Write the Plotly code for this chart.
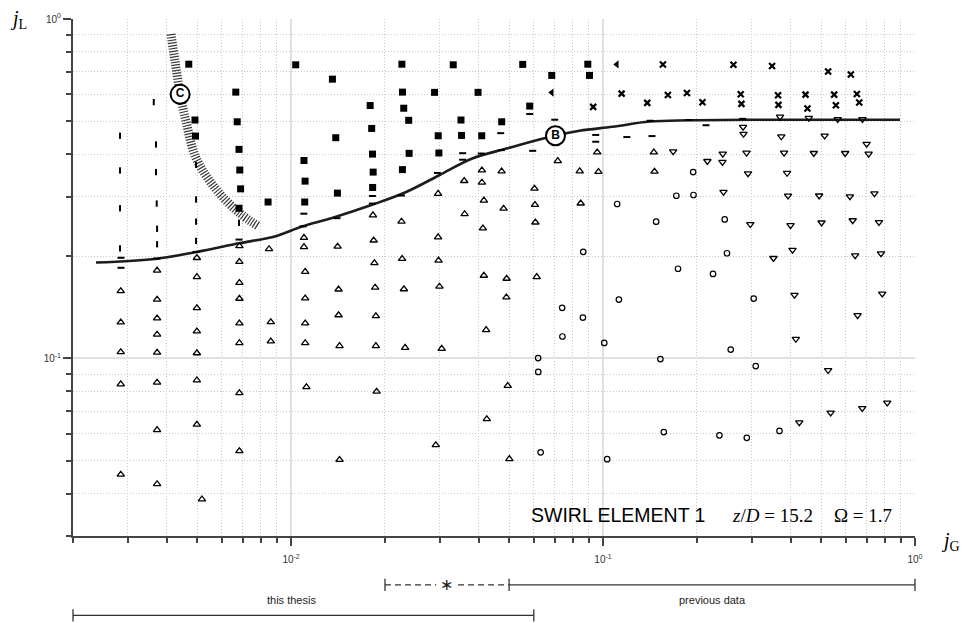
import math
import plotly.graph_objects as go

# ---- flow regime data: (jG, jL) pairs per observed pattern ----
squares = [(0.0047, 0.736), (0.01035, 0.733), (0.00665, 0.609), (0.00492, 0.504), (0.00672, 0.498),
           (0.00494, 0.452), (0.00681, 0.413), (0.00685, 0.359), (0.00689, 0.316), (0.00844, 0.289),
           (0.00681, 0.277), (0.01357, 0.665), (0.0110, 0.383), (0.01109, 0.333), (0.01106, 0.289),
           (0.01391, 0.447), (0.01408, 0.307), (0.01793, 0.556), (0.01813, 0.476), (0.01824, 0.400),
           (0.01833, 0.354), (0.01826, 0.319), (0.02266, 0.736), (0.02276, 0.609), (0.02297, 0.546),
           (0.02383, 0.503), (0.0239, 0.402), (0.02275, 0.360), (0.02884, 0.608), (0.02963, 0.453),
           (0.02977, 0.403), (0.0331, 0.733), (0.03505, 0.504), (0.0352, 0.454), (0.03975, 0.608),
           (0.04085, 0.453), (0.04733, 0.498), (0.05528, 0.735), (0.05821, 0.554), (0.06849, 0.682),
           (0.08937, 0.736), (0.09051, 0.682)]

left_triangles = [(0.0685, 0.607), (0.1107, 0.735)]

vertical_bars = [(0.00283, 0.453), (0.00283, 0.358), (0.00283, 0.277), (0.00283, 0.211),
                 (0.00363, 0.569), (0.00369, 0.427), (0.00369, 0.354), (0.00371, 0.286),
                 (0.00372, 0.241), (0.00372, 0.217), (0.00496, 0.372), (0.00496, 0.294),
                 (0.00496, 0.253), (0.00496, 0.222), (0.00681, 0.251)]

horizontal_bars = [(0.00285, 0.198), (0.00285, 0.185), (0.00371, 0.197), (0.00496, 0.206),
                   (0.00681, 0.224), (0.01099, 0.267), (0.01093, 0.245), (0.01404, 0.259),
                   (0.01823, 0.301), (0.01823, 0.286), (0.0226, 0.302), (0.02945, 0.352),
                   (0.03548, 0.4025), (0.03548, 0.385), (0.0407, 0.4016), (0.04698, 0.461),
                   (0.04722, 0.411), (0.05821, 0.525), (0.05951, 0.409), (0.07002, 0.505),
                   (0.09475, 0.4555), (0.09475, 0.435), (0.1192, 0.449), (0.1417, 0.5015),
                   (0.1435, 0.452), (0.1885, 0.504), (0.2138, 0.4865), (0.2804, 0.508)]

up_triangles = [(0.002845, 0.158), (0.002845, 0.1278), (0.002845, 0.1045), (0.002845, 0.084), (0.002845, 0.0455),
                (0.00372, 0.1817), (0.00372, 0.1491), (0.00372, 0.1313), (0.00372, 0.1177), (0.00372, 0.1041),
                (0.00372, 0.085), (0.00372, 0.0616), (0.00372, 0.0427),
                (0.00499, 0.1979), (0.00499, 0.1739), (0.00499, 0.1408), (0.00499, 0.1203), (0.00499, 0.1037),
                (0.00499, 0.0863), (0.00499, 0.0639), (0.00518, 0.0385),
                (0.00683, 0.2145), (0.00683, 0.1927), (0.00683, 0.1671), (0.00683, 0.1501), (0.00683, 0.127),
                (0.00683, 0.1111), (0.00683, 0.0791), (0.00683, 0.0534),
                (0.0085, 0.2102), (0.00861, 0.1281), (0.00861, 0.1124),
                (0.0110, 0.2269), (0.0110, 0.2131), (0.0111, 0.1802), (0.0111, 0.1504), (0.0111, 0.127),
                (0.0111, 0.1111), (0.0112, 0.0824),
                (0.0141, 0.2136), (0.0142, 0.1598), (0.0142, 0.1342), (0.0143, 0.1089), (0.0143, 0.0503),
                (0.0183, 0.2643), (0.0184, 0.2228), (0.0185, 0.191), (0.0186, 0.1619), (0.0187, 0.1334),
                (0.0187, 0.1089), (0.0188, 0.0799),
                (0.0226, 0.2533), (0.0227, 0.1966), (0.023, 0.1601), (0.0232, 0.1076),
                (0.0291, 0.0556), (0.0296, 0.2277), (0.0296, 0.3058), (0.0297, 0.1945), (0.0299, 0.163),
                (0.0304, 0.1069),
                (0.0359, 0.3336), (0.036, 0.2665),
                (0.0409, 0.3583), (0.0409, 0.33), (0.0415, 0.2922), (0.0412, 0.2419), (0.0415, 0.1754),
                (0.0422, 0.1214), (0.0424, 0.0663),
                (0.0473, 0.3559), (0.048, 0.2766), (0.0491, 0.1719), (0.049, 0.1514), (0.0495, 0.0831),
                (0.0501, 0.0506),
                (0.0603, 0.3167), (0.0605, 0.2836), (0.0607, 0.2517), (0.0613, 0.1739),
                (0.0716, 0.3819), (0.0842, 0.3562), (0.0848, 0.2864), (0.0958, 0.4048), (0.0967, 0.3548),
                (0.1455, 0.405), (0.1462, 0.3555)]

circles = [(0.0864, 0.2061), (0.07396, 0.141), (0.0862, 0.132), (0.0741, 0.1161), (0.06194, 0.1003),
           (0.062, 0.0913), (0.0631, 0.0529), (0.1009, 0.1111), (0.1031, 0.0505), (0.111, 0.2851),
           (0.1124, 0.1491), (0.148, 0.253), (0.1527, 0.0996), (0.1566, 0.0607), (0.1718, 0.3016),
           (0.1739, 0.1838), (0.1945, 0.354), (0.195, 0.3031), (0.2252, 0.1774), (0.2361, 0.0594),
           (0.2455, 0.2568), (0.2497, 0.2042), (0.2566, 0.1062), (0.2889, 0.0584), (0.3041, 0.1501),
           (0.3087, 0.095), (0.3678, 0.0612)]

down_triangles = [(0.3693, 0.5151), (0.4567, 0.511), (0.5653, 0.5066), (0.6785, 0.5066), (0.2811, 0.4808),
                  (0.282, 0.4585), (0.3728, 0.4506), (0.5133, 0.4531), (0.6998, 0.4285), (0.1678, 0.4071),
                  (0.242, 0.4007), (0.2884, 0.4035), (0.3805, 0.4035), (0.4738, 0.4026), (0.5972, 0.4026),
                  (0.7102, 0.4007), (0.216, 0.3814), (0.2414, 0.3789), (0.2916, 0.3507), (0.389, 0.3518),
                  (0.2433, 0.3093), (0.3919, 0.3016), (0.4929, 0.3018), (0.6185, 0.3001), (0.7413, 0.3062),
                  (0.2965, 0.2485), (0.399, 0.2467), (0.5017, 0.2513), (0.6314, 0.2552), (0.7666, 0.252),
                  (0.3518, 0.1975), (0.4049, 0.2088), (0.643, 0.2011), (0.778, 0.2038), (0.411, 0.1538),
                  (0.7852, 0.1552), (0.6546, 0.134), (0.415, 0.1141), (0.5267, 0.0923), (0.4257, 0.0648),
                  (0.5366, 0.0692), (0.6775, 0.0714), (0.8148, 0.0741)]

crosses = [(0.1556, 0.7349), (0.2618, 0.7334), (0.3482, 0.7271), (0.5267, 0.700), (0.6228, 0.6862),
           (0.1147, 0.6028), (0.1614, 0.5972), (0.1858, 0.6052), (0.2763, 0.5999), (0.3639, 0.596),
           (0.4457, 0.5988), (0.5506, 0.5988), (0.6512, 0.6013), (0.093, 0.5511), (0.1386, 0.5661),
           (0.2083, 0.5687), (0.2777, 0.5623), (0.365, 0.5585), (0.4522, 0.5451), (0.5577, 0.5574),
           (0.6625, 0.5676)]

# transition line B
curve_b = [(0.00237, 0.1917), (0.00372, 0.1968), (0.00496, 0.2058), (0.00681, 0.2184), (0.00893, 0.2293),
           (0.01084, 0.2447), (0.01354, 0.2594), (0.01819, 0.2836), (0.02339, 0.3093), (0.02985, 0.3466),
           (0.0381, 0.3883), (0.049, 0.4152), (0.0659, 0.4469), (0.0841, 0.4686), (0.1072, 0.4813),
           (0.1409, 0.499), (0.1896, 0.503), (0.2891, 0.505), (0.895, 0.505)]
label_b = (0.0704, 0.453)

# hatched transition band C
curve_c = [(0.00412, 0.9027), (0.00425, 0.748), (0.00441, 0.600), (0.00464, 0.484), (0.00496, 0.389),
           (0.00574, 0.3156), (0.00681, 0.2688), (0.00789, 0.2447)]
label_c = (0.00441, 0.600)

# data-source ranges along jG
thesis_range = (0.002, 0.06)
previous_range = (0.05, 1.0)
overlap_range = (0.02, 0.05)
overlap_gap = (0.0292, 0.0343)
overlap_mark = 0.0316
thesis_label_at = 0.01
previous_label_at = 0.224

X_MIN, X_MAX = 0.002, 1.0
Y_MIN, Y_MAX = 0.03, 1.0


def xs(pts):
    return [p[0] for p in pts]


def ys(pts):
    return [p[1] for p in pts]


def xfrac(v):
    """Position of a jG value along the log x axis, as a fraction of its width."""
    lo, hi = math.log10(X_MIN), math.log10(X_MAX)
    return (math.log10(v) - lo) / (hi - lo)


fig = go.Figure()

fig.add_trace(go.Scatter(x=xs(curve_c), y=ys(curve_c), mode="lines", hoverinfo="skip",
                         line=dict(color="#383838", width=9, dash="1.2px,1.6px", shape="spline")))
fig.add_trace(go.Scatter(x=xs(curve_b), y=ys(curve_b), mode="lines", hoverinfo="skip",
                         line=dict(color="#1c1c1c", width=2.6, shape="spline")))


def add_markers(pts, symbol, size, color, lw, fill=None):
    fig.add_trace(go.Scatter(
        x=xs(pts), y=ys(pts), mode="markers",
        marker=dict(symbol=symbol, size=size, color=fill if fill else color,
                    line=dict(color=color, width=lw))))


add_markers(squares, "square", 7, "black", 0, fill="black")
add_markers(left_triangles, "triangle-left", 7, "black", 0, fill="black")
add_markers(vertical_bars, "line-ns", 4.5, "black", 2)
add_markers(horizontal_bars, "line-ew", 5, "black", 2)
add_markers(up_triangles, "triangle-up-open", 6.5, "black", 1.3)
add_markers(down_triangles, "triangle-down-open", 6.5, "black", 1.3)
add_markers(circles, "circle-open", 5.5, "black", 1.2)
add_markers(crosses, "x-thin", 6, "black", 2.2)

for (lx, ly), name in ((label_b, "B"), (label_c, "C")):
    fig.add_trace(go.Scatter(
        x=[lx], y=[ly], mode="markers+text", text=[f"<b>{name}</b>"], textposition="middle center",
        textfont=dict(family="Liberation Sans", size=12, color="black"),
        marker=dict(symbol="circle", size=19, color="white", line=dict(color="black", width=2))))

minor_x = [m * 10 ** e for e in (-3, -2, -1) for m in range(2, 10) if X_MIN <= m * 10 ** e <= X_MAX]
minor_y = [m * 10 ** e for e in (-2, -1) for m in range(2, 10) if Y_MIN <= m * 10 ** e <= Y_MAX]

axis_common = dict(
    type="log", showline=True, linecolor="#444", linewidth=2, ticks="outside", ticklen=8, tickwidth=1.5,
    tickcolor="#444", showgrid=True, gridcolor="#e0e0e0", gridwidth=1.5, zeroline=False,
    tickfont=dict(family="Liberation Sans", size=10, color="#333"),
)
minor_common = dict(ticks="outside", ticklen=5, tickwidth=1.5, tickcolor="#444",
                    showgrid=True, gridcolor="#c8c8c8", griddash="1px,2px", gridwidth=1)
fig.update_xaxes(
    range=[math.log10(X_MIN), math.log10(X_MAX)],
    tickvals=[0.01, 0.1, 1], ticktext=["10<sup>-2</sup>", "10<sup>-1</sup>", "10<sup>0</sup>"],
    ticklabelstandoff=5,
    minor=dict(tickvals=minor_x, **minor_common), **axis_common)
fig.update_yaxes(
    range=[math.log10(Y_MIN), math.log10(Y_MAX)],
    tickvals=[0.1, 1], ticktext=["10<sup>-1</sup>", "10<sup>0</sup>"],
    minor=dict(tickvals=minor_y, **minor_common), **axis_common)

# range brackets below the axis
shapes = []
line_style = dict(color="#333", width=1.3)


def hseg(a, b, y, dash=None):
    st = dict(line_style)
    if dash:
        st["dash"] = dash
    shapes.append(dict(type="line", xref="paper", yref="paper", x0=xfrac(a), x1=xfrac(b),
                       y0=y, y1=y, line=st))


def vtick(a, y, h=0.012):
    shapes.append(dict(type="line", xref="paper", yref="paper", x0=xfrac(a), x1=xfrac(a),
                       y0=y - h, y1=y + h, line=dict(line_style)))


ROW1, ROW2 = -0.0945, -0.1535
hseg(overlap_range[0], overlap_gap[0], ROW1, dash="6px,4px")
hseg(overlap_gap[1], overlap_range[1], ROW1, dash="6px,4px")
hseg(previous_range[0], previous_range[1], ROW1)
for v in (overlap_range[0], previous_range[0], previous_range[1]):
    vtick(v, ROW1)
hseg(thesis_range[0], thesis_range[1], ROW2)
for v in thesis_range:
    vtick(v, ROW2)


def note(text, x, y, family="Liberation Sans", size=11, color="black"):
    return dict(text=text, xref="paper", yref="paper", x=x, y=y, xanchor="center", yanchor="middle",
                showarrow=False, font=dict(family=family, size=size, color=color))


annotations = [
    note("<i>j</i><sub>L</sub>", -0.0653, 1.0, family="Liberation Serif", size=20),
    note("<i>j</i><sub>G</sub>", 1.0416, -0.011, family="Liberation Serif", size=20),
    note("SWIRL ELEMENT 1", 0.6473, 0.040, size=19.5),
    note("<i>z</i>/<i>D</i> = 15.2", 0.8308, 0.040, family="Liberation Serif", size=19),
    note("Ω = 1.7", 0.9388, 0.040, family="Liberation Serif", size=19),
    note("this thesis", xfrac(thesis_label_at), -0.123, color="#222"),
    note("previous data", xfrac(previous_label_at), -0.123, color="#222"),
    note("∗", xfrac(overlap_mark), ROW1, family="DejaVu Sans", size=16, color="#222"),
]

fig.update_layout(
    width=963, height=623, margin=dict(l=73, r=48, t=12, b=87),
    paper_bgcolor="white", plot_bgcolor="white", showlegend=False,
    shapes=shapes, annotations=annotations,
)

fig.write_html("out.html")
